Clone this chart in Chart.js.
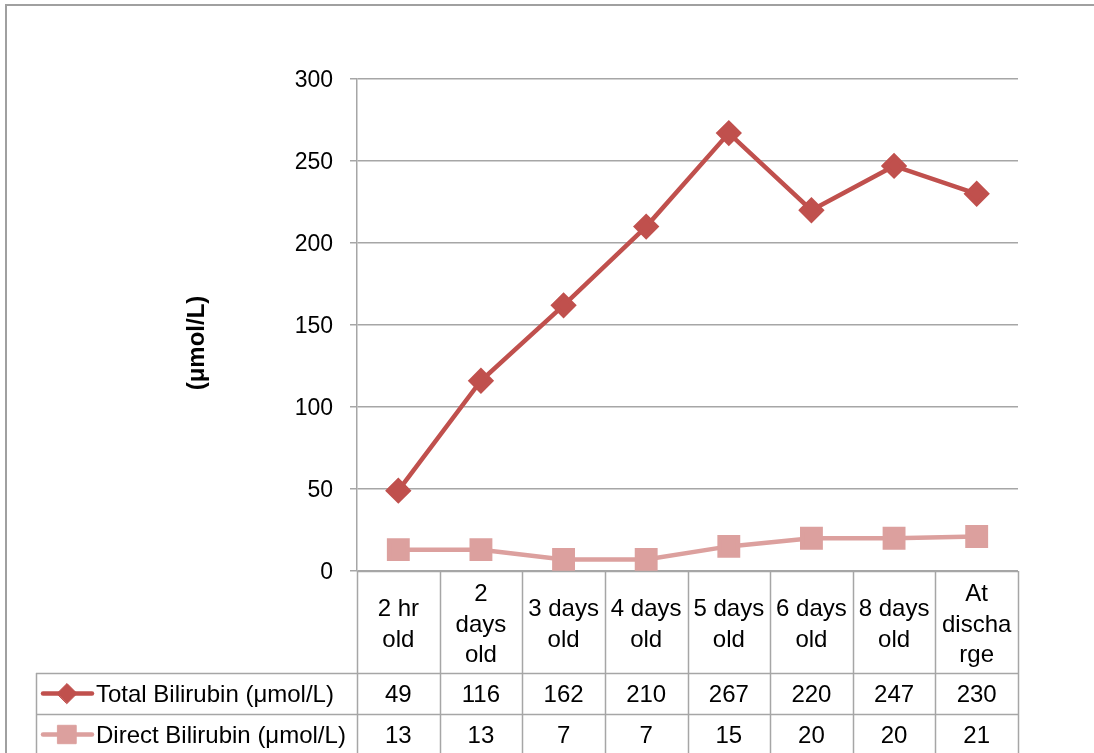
<!DOCTYPE html>
<html><head><meta charset="utf-8">
<script src="https://cdn.jsdelivr.net/npm/chart.js@4.4.0/dist/chart.umd.min.js"></script>
<style>html,body{margin:0;padding:0;background:#fff;overflow:hidden}</style>
</head><body>
<canvas id="c" width="1094" height="753" style="width:1094px;height:753px;display:block"></canvas>
<script>
// ---- data ----
const categories = [['2 hr','old'],['2','days','old'],['3 days','old'],['4 days','old'],['5 days','old'],['6 days','old'],['8 days','old'],['At','discha','rge']];
const seriesNames = ['Total Bilirubin (μmol/L)','Direct Bilirubin (μmol/L)'];
const totalBilirubin = [49,116,162,210,267,220,247,230];
const directBilirubin = [13,13,7,7,15,20,20,21];
const yTicks = [0,50,100,150,200,250,300];
const yTitle = '(μmol/L)';

const FONT = '"Liberation Sans", Arial, sans-serif';
const GRID = '#a6a6a6';

const tablePlugin = {
  id: 'tablePlugin',
  afterDraw(chart) {
    const ctx = chart.ctx;
    const area = chart.chartArea;
    const xs = chart.scales.x;
    const n = categories.length;
    const colW = (area.right - area.left) / n;
    const headerBottom = 673, row1Bottom = 714, row2Bottom = 760;
    const tableLeft = 36;
    ctx.save();
    // outer frame
    ctx.strokeStyle = '#a0a0a0';
    ctx.lineWidth = 2;
    ctx.strokeRect(6, 5, 1200, 900);
    // table lines
    ctx.strokeStyle = GRID;
    ctx.lineWidth = 1.5;
    ctx.beginPath();
    for (let i = 0; i <= n; i++) {
      const x = Math.round(area.left + i * colW) + 0.5;
      ctx.moveTo(x, area.bottom); ctx.lineTo(x, row2Bottom);
    }
    ctx.moveTo(area.left, area.bottom + 0.5); ctx.lineTo(area.right, area.bottom + 0.5);
    ctx.moveTo(tableLeft, headerBottom + 0.5); ctx.lineTo(area.right, headerBottom + 0.5);
    ctx.moveTo(tableLeft, row1Bottom + 0.5); ctx.lineTo(area.right, row1Bottom + 0.5);
    ctx.moveTo(tableLeft + 0.5, headerBottom); ctx.lineTo(tableLeft + 0.5, row2Bottom);
    ctx.stroke();
    // header labels
    ctx.fillStyle = '#000';
    ctx.textAlign = 'center';
    ctx.textBaseline = 'middle';
    ctx.font = '24px ' + FONT;
    const lh = 30.5;
    const hc = (area.bottom + headerBottom) / 2 + 3;
    categories.forEach((lines, i) => {
      const cx = xs.getPixelForValue(i);
      const y0 = hc - (lines.length - 1) * lh / 2;
      lines.forEach((t, k) => ctx.fillText(t, cx, y0 + k * lh));
    });
    // values
    const rows = [totalBilirubin, directBilirubin];
    const rowCenters = [(headerBottom + row1Bottom) / 2 + 2, (row1Bottom + 753) / 2 + 3];
    rows.forEach((vals, r) => {
      vals.forEach((v, i) => ctx.fillText(String(v), xs.getPixelForValue(i), rowCenters[r]));
      // legend key
      const ds = chart.data.datasets[r];
      const y = rowCenters[r] - 2;
      ctx.strokeStyle = ds.borderColor;
      ctx.lineWidth = ds.borderWidth;
      ctx.lineCap = 'round';
      ctx.beginPath(); ctx.moveTo(43, y); ctx.lineTo(92, y); ctx.stroke();
      ctx.fillStyle = ds.pointBackgroundColor;
      ctx.strokeStyle = ds.pointBackgroundColor;
      ctx.lineWidth = 1;
      Chart.helpers.drawPoint(ctx, {pointStyle: ds.pointStyle, radius: ds.pointRadius, borderWidth: 1}, 67, y);
      ctx.fillStyle = '#000';
      ctx.textAlign = 'left';
      ctx.fillText(seriesNames[r], 96, rowCenters[r]);
      ctx.textAlign = 'center';
    });
    // y title
    ctx.save();
    ctx.translate(197, 343);
    ctx.rotate(-Math.PI / 2);
    ctx.font = 'bold 24px ' + FONT;
    ctx.fillText(yTitle, 0, 0);
    ctx.restore();
    ctx.restore();
  }
};

new Chart(document.getElementById('c'), {
  type: 'line',
  data: {
    labels: categories.map(l => l.join(' ')),
    datasets: [
      { label: seriesNames[0], data: totalBilirubin, borderColor: '#c0504d', backgroundColor: '#c0504d',
        pointBackgroundColor: '#c0504d', pointBorderColor: '#c0504d', borderWidth: 4.5, pointStyle: 'rectRot',
        pointRadius: 10, pointHoverRadius: 10, tension: 0 },
      { label: seriesNames[1], data: directBilirubin, borderColor: '#dca09e', backgroundColor: '#dca09e',
        pointBackgroundColor: '#dca09e', pointBorderColor: '#dca09e', borderWidth: 4.5, pointStyle: 'rect',
        pointRadius: 13, pointHoverRadius: 13, tension: 0 }
    ]
  },
  options: {
    responsive: false,
    animation: false,
    devicePixelRatio: 1,
    layout: { padding: { left: 0, top: 79, right: 76, bottom: 182 } },
    plugins: { legend: { display: false }, tooltip: { enabled: false } },
    scales: {
      x: { type: 'category', display: false, offset: true },
      y: {
        min: 0, max: 300,
        afterBuildTicks: s => { s.ticks = yTicks.map(v => ({ value: v })); },
        afterFit: s => { s.width = 357; },
        grid: { color: GRID, lineWidth: 1.5, tickLength: 7, drawTicks: true },
        border: { display: true, color: GRID, width: 1.5 },
        ticks: { color: '#000', font: { family: FONT, size: 23 }, padding: 17, labelOffset: 2 }
      }
    }
  },
  plugins: [tablePlugin]
});
</script>
</body></html>
